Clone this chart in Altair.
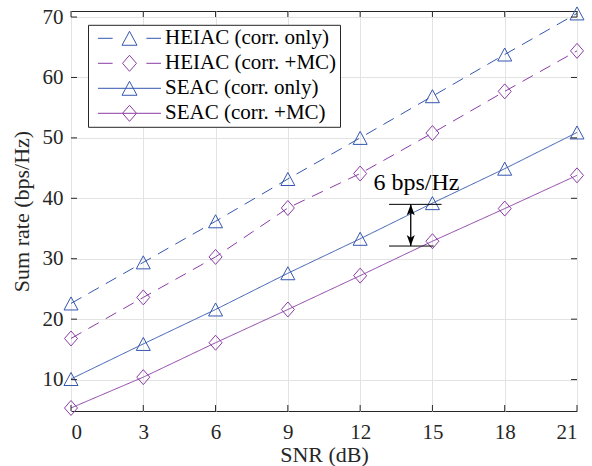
import altair as alt
import pandas as pd

# SNR grid (dB) and sum rates (bps/Hz) for each scheme
snr = [0, 3, 6, 9, 12, 15, 18, 21]
heiac_corr = [22.6, 29.4, 36.2, 43.2, 50.0, 56.9, 63.8, 70.6]
heiac_mc = [16.8, 23.6, 30.3, 38.4, 44.1, 50.8, 57.7, 64.4]
seac_corr = [10.1, 15.9, 21.6, 27.6, 33.3, 39.2, 44.9, 50.9]
seac_mc = [5.3, 10.4, 16.1, 21.6, 27.2, 32.9, 38.3, 43.8]

series_names = ["HEIAC (corr. only)", "HEIAC (corr. +MC)",
                "SEAC (corr. only)", "SEAC (corr. +MC)"]
series_values = [heiac_corr, heiac_mc, seac_corr, seac_mc]

x_ticks = [0, 3, 6, 9, 12, 15, 18, 21]
y_ticks = [10, 20, 30, 40, 50, 60, 70]

# gap annotation between the two SEAC curves
gap_x = [14.1]
gap_lo = [32.1]
gap_hi = [39.0]
gap_bar_from = [13.2, 13.2]
gap_bar_to = [15.05, 15.38]
gap_bar_y = [32.1, 39.0]
gap_text = ["6 bps/Hz"]
gap_text_x = [14.34]
gap_text_y = [41.35]

BLUE = "#3557b0"
PURPLE = "#8b3da6"
AX = "#262626"
FONT = "Liberation Serif"
W, H = 506, 400

TRI = "M0,-0.93L-1,0.93L1,0.93Z"
DIA = "M-0.93,0L0,-1.07L0.93,0L0,1.07Z"
DASH_LINE = "M-4.2,0H-2.25M2.25,0H4.2"
SOLID_LINE = "M-4.2,0H4.2"

series_colors = [BLUE, PURPLE, BLUE, PURPLE]
series_dash = [[12, 8], [12, 8], [1, 0], [1, 0]]
series_marker = [TRI, DIA, TRI, DIA]
# legend glyphs: line (dashed or solid) with the marker in the middle
legend_paths = [DASH_LINE + TRI, DASH_LINE + DIA, SOLID_LINE + TRI, SOLID_LINE + DIA]

rows = []
for name, vals in zip(series_names, series_values):
    for s, v in zip(snr, vals):
        rows.append({"snr": s, "rate": v, "series": name})
df = pd.DataFrame(rows)

x_scale = alt.Scale(domain=[0, 21], nice=False, zero=False)
y_scale = alt.Scale(domain=[4.8, 71], nice=False, zero=False)

x_axis = alt.Axis(values=x_ticks, title="SNR (dB)", labelPadding=10, titlePadding=2)
y_axis = alt.Axis(values=y_ticks, title="Sum rate (bps/Hz)", labelPadding=8, titlePadding=9)


def xq(field="snr"):
    return alt.X(f"{field}:Q", scale=x_scale, axis=x_axis)


def yq(field="rate"):
    return alt.Y(f"{field}:Q", scale=y_scale, axis=y_axis)


layers = []
for name, color, dash, marker in zip(series_names, series_colors, series_dash, series_marker):
    sub = alt.Chart(df).transform_filter(alt.datum.series == name)
    layers.append(sub.mark_line(color=color, strokeWidth=1, strokeDash=dash).encode(x=xq(), y=yq()))
    layers.append(sub.mark_point(shape=marker, size=196, filled=False, color=color,
                                 strokeWidth=1, opacity=1).encode(x=xq(), y=yq()))

legend_props = dict(
    title=None, orient="none", legendX=17, legendY=13.8, padding=3,
    strokeColor=AX, fillColor="white", labelFont=FONT, labelFontSize=21,
    labelColor="black", labelLimit=400, symbolSize=225, symbolStrokeWidth=1,
    symbolOffset=28, labelOffset=25, rowPadding=3,
)

# carries the legend only; its rows are filtered out so nothing is plotted
legend_layer = alt.Chart(pd.DataFrame({"series": series_names})).transform_filter(
    "false"
).mark_point(filled=False, strokeWidth=1, opacity=1).encode(
    color=alt.Color("series:N", scale=alt.Scale(domain=series_names, range=series_colors),
                    legend=alt.Legend(**legend_props)),
    shape=alt.Shape("series:N", scale=alt.Scale(domain=series_names, range=legend_paths),
                    legend=alt.Legend(**legend_props)),
)
layers.append(legend_layer)

gap_shaft = alt.Chart(pd.DataFrame({"snr": gap_x, "rate": gap_lo, "hi": gap_hi})).mark_rule(
    color="black", strokeWidth=1.3
).encode(x=xq(), y=yq(), y2="hi:Q")

gap_bars = alt.Chart(pd.DataFrame({"snr": gap_bar_from, "b": gap_bar_to, "rate": gap_bar_y})).mark_rule(
    color="black", strokeWidth=1
).encode(x=xq(), x2="b:Q", y=yq())

head_up = alt.Chart(pd.DataFrame({"snr": gap_x, "rate": gap_hi})).mark_point(
    shape="M0,0L-1,2.75L0,2.1L1,2.75Z", size=64, filled=True, color="black", opacity=1
).encode(x=xq(), y=yq())

head_down = alt.Chart(pd.DataFrame({"snr": gap_x, "rate": gap_lo})).mark_point(
    shape="M0,0L-1,-2.75L0,-2.1L1,-2.75Z", size=64, filled=True, color="black", opacity=1
).encode(x=xq(), y=yq())

gap_label = alt.Chart(pd.DataFrame({"snr": gap_text_x, "rate": gap_text_y, "t": gap_text})).mark_text(
    font=FONT, fontSize=24, align="center", baseline="alphabetic", color="black"
).encode(x=xq(), y=yq(), text="t:N")

layers += [gap_bars, gap_shaft, head_up, head_down, gap_label]

# inward tick marks on all four sides of the box
xt = alt.Chart(pd.DataFrame({"snr": x_ticks}))
yt = alt.Chart(pd.DataFrame({"rate": y_ticks}))
tick_style = dict(color=AX, strokeWidth=1)
layers += [
    xt.mark_rule(**tick_style).encode(x=xq(), y=alt.value(H), y2=alt.value(H - 6)),
    xt.mark_rule(**tick_style).encode(x=xq(), y=alt.value(0), y2=alt.value(6)),
    yt.mark_rule(**tick_style).encode(y=yq(), x=alt.value(0), x2=alt.value(6)),
    yt.mark_rule(**tick_style).encode(y=yq(), x=alt.value(W), x2=alt.value(W - 6)),
]

chart = alt.layer(*layers).properties(
    width=W, height=H,
    padding={"left": 71, "top": 11, "right": 15, "bottom": 55},
    autosize=alt.AutoSizeParams(type="none"),
).configure_view(
    stroke=AX, strokeWidth=1
).configure_axis(
    grid=True, gridColor="#e3e3e3", gridWidth=1, domain=False, ticks=False,
    labelFont=FONT, labelFontSize=21, labelColor=AX,
    titleFont=FONT, titleFontSize=22, titleFontWeight="normal", titleColor=AX,
)

chart.save("out.html", embed_options={"renderer": "svg", "actions": False})
